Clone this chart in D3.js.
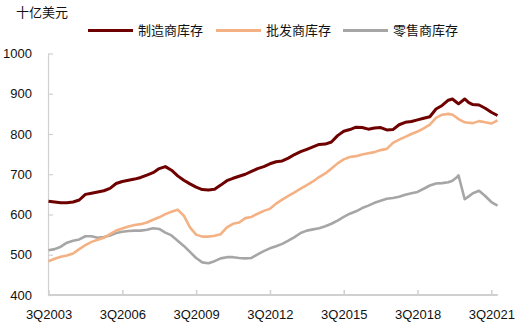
<!DOCTYPE html>
<html><head><meta charset="utf-8">
<script src="https://cdn.jsdelivr.net/npm/d3@7"></script>
<style>
html,body{margin:0;padding:0;background:#fff;}
svg{display:block;}
</style></head>
<body><svg id="c" width="528" height="335"></svg>
<script>
const dates = [
"2003-07","2003-10",
"2004-01","2004-04","2004-07","2004-10",
"2005-01","2005-04","2005-07","2005-10",
"2006-01","2006-04","2006-07","2006-10",
"2007-01","2007-04","2007-07","2007-10",
"2008-01","2008-04","2008-07","2008-10",
"2009-01","2009-04","2009-07","2009-10",
"2010-01","2010-04","2010-07","2010-10",
"2011-01","2011-04","2011-07","2011-10",
"2012-01","2012-04","2012-07","2012-10",
"2013-01","2013-04","2013-07","2013-10",
"2014-01","2014-04","2014-07","2014-10",
"2015-01","2015-04","2015-07","2015-10",
"2016-01","2016-04","2016-07","2016-10",
"2017-01","2017-04","2017-07","2017-10",
"2018-01","2018-04","2018-07","2018-10",
"2019-01","2019-04","2019-07",
"2019-10","2019-12","2020-02","2020-03","2020-06","2020-08","2020-10",
"2021-01","2021-04","2021-07","2021-10"];

const manufacturing = [
633,631,629,629,631,636,650,653,656,659,
665,677,682,685,688,692,698,704,714,719,
710,696,685,676,668,662,661,663,673,684,
690,695,700,707,714,719,726,731,733,740,
749,756,762,768,774,775,780,796,807,811,
817,816,812,815,816,810,811,823,829,831,
835,839,843,862,871,
884,887,879,875,887,878,873,872,864,854,846];

const wholesale = [
484,490,495,498,503,514,524,532,537,542,
551,560,565,570,574,576,580,587,593,601,
607,612,597,568,550,545,545,547,551,568,
577,580,591,594,602,609,614,627,637,646,
655,664,673,682,693,702,714,727,737,743,
745,749,752,755,760,763,778,786,793,800,
806,814,823,840,848,
850,848,841,837,829,828,827,832,829,826,834];

const retail = [
511,514,520,530,535,538,546,546,542,544,
548,554,557,559,560,560,562,566,564,555,
548,535,522,507,492,481,479,484,491,494,
494,492,491,492,501,509,516,521,527,535,
544,554,560,563,566,571,577,585,594,602,
608,616,622,629,634,639,641,644,649,653,
656,664,672,677,678,
680,684,692,697,638,645,653,659,646,631,622];

const seriesNames = ["制造商库存","批发商库存","零售商库存"];
const seriesColors = ["#6e0000","#f4b183","#a6a6a6"];
const seriesWidths = [3,2.6,2.6];
const tickDates = ["2003-07","2006-07","2009-07","2012-07","2015-07","2018-07","2021-07"];
const tickLabels = ["3Q2003","3Q2006","3Q2009","3Q2012","3Q2015","3Q2018","3Q2021"];
const yTicks = [400,500,600,700,800,900,1000];
const unitLabel = "十亿美元";

const monthIdx = s => { const [y,m] = s.split("-").map(Number); return (y-2003)*12 + (m-7); };

const svg = d3.select("#c");
const x = d3.scaleLinear().domain([0,219]).range([48.5,497.5]);
const y = d3.scaleLinear().domain([400,1000]).range([295,53.5]);
const fontLatin = "'Liberation Sans', Arial, sans-serif";
const fontCJK = "'Noto Sans CJK SC', sans-serif";
const axisColor = "#d0d0d0";

// Y axis
const yAxis = svg.append("g").attr("transform","translate(48,0)")
  .call(d3.axisLeft(y).tickValues(yTicks).tickFormat(d3.format("d"))
    .tickSizeInner(-5).tickSizeOuter(0).tickPadding(16));
yAxis.select(".domain").attr("stroke",axisColor).attr("stroke-width",1.2);
yAxis.selectAll(".tick line").attr("stroke",axisColor).attr("stroke-width",1.2);
yAxis.selectAll(".tick text").attr("font-family",fontLatin).attr("font-size",13).attr("fill","#111");

// X axis
const xAxis = svg.append("g").attr("transform","translate(0,295)")
  .call(d3.axisBottom(x).tickValues(tickDates.map(monthIdx))
    .tickFormat((d,i)=>tickLabels[i]).tickSizeInner(-5).tickSizeOuter(0).tickPadding(15));
xAxis.select(".domain").attr("stroke",axisColor).attr("stroke-width",2)
  .attr("d",`M48,0H${x(219)+0.3}`);
xAxis.selectAll(".tick line").attr("stroke",axisColor).attr("stroke-width",1.5);
xAxis.selectAll(".tick text").attr("font-family",fontLatin).attr("font-size",13).attr("fill","#111");

// Lines
const allSeries = [manufacturing, wholesale, retail];
const line = d3.line().x((d,i)=>x(monthIdx(dates[i]))).y(d=>y(d));
[2,1,0].forEach(k=>{
  svg.append("path").datum(allSeries[k])
    .attr("d",line).attr("fill","none")
    .attr("stroke",seriesColors[k]).attr("stroke-width",seriesWidths[k])
    .attr("stroke-linejoin","round");
});

// Unit label
svg.append("text").attr("x",16).attr("y",17).text(unitLabel)
  .attr("font-family",fontCJK).attr("font-size",13).attr("fill","#111");

// Legend
const legendX = [88,216,343];
seriesNames.forEach((n,k)=>{
  svg.append("line").attr("x1",legendX[k]).attr("x2",legendX[k]+45)
    .attr("y1",30.5).attr("y2",30.5).attr("stroke",seriesColors[k]).attr("stroke-width",3);
  svg.append("text").attr("x",legendX[k]+50).attr("y",35).text(n)
    .attr("font-family",fontCJK).attr("font-size",13).attr("fill","#111");
});
</script></body></html>
